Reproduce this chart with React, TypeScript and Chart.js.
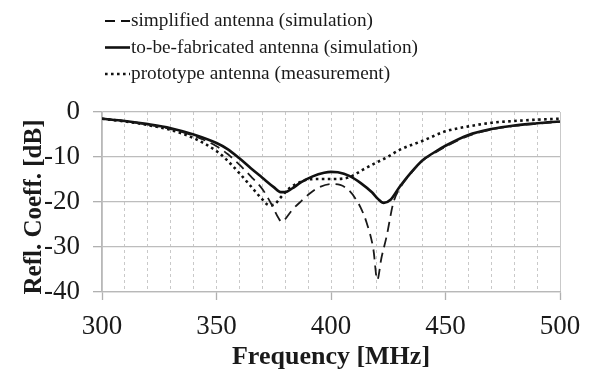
import React, { useEffect, useRef } from "react";
import { Chart, registerables } from "chart.js";

Chart.register(...registerables);

// ---- Data ----
const seriesLabels = [
  "simplified antenna (simulation)",
  "to-be-fabricated antenna (simulation)",
  "prototype antenna (measurement)",
];

const simplifiedFreq = [300, 310, 320, 330, 340, 350, 355, 360, 365, 370, 374, 377, 378.5, 380, 383, 387, 391, 395, 400, 404, 408, 411, 413, 415.5, 418.5, 420.2, 422, 424.3, 427.2, 430, 435, 440, 445, 450, 460, 470, 480, 490, 500];
const simplifiedDb = [-1.5, -2.0, -2.8, -3.8, -5.3, -7.6, -9.4, -11.7, -14.3, -17.1, -20.5, -23.5, -24.4, -23.8, -21.8, -19.8, -18.0, -16.7, -16.0, -16.2, -17.5, -19.5, -21.3, -24.5, -30.5, -37.3, -32.5, -27.6, -20.2, -17.0, -13.6, -10.8, -9.2, -7.7, -5.3, -3.9, -3.1, -2.6, -2.2];

const fabricatedFreq = [300, 310, 320, 330, 340, 350, 355, 360, 365, 370, 375, 378, 380, 383, 387, 392, 397, 400, 403, 408, 413, 418, 420.5, 423, 426, 430, 435, 440, 445, 450, 460, 470, 480, 490, 500];
const fabricatedDb = [-1.5, -2.0, -2.7, -3.6, -5.0, -6.9, -8.3, -10.3, -12.5, -14.6, -16.7, -17.8, -17.8, -17.0, -15.6, -14.3, -13.5, -13.3, -13.4, -14.2, -15.8, -17.9, -19.3, -20.2, -19.5, -16.6, -13.4, -10.7, -9.0, -7.5, -5.1, -3.8, -3.0, -2.5, -2.1];

const prototypeFreq = [300, 310, 320, 330, 340, 350, 355, 360, 365, 370, 373, 375, 378, 382, 386, 390, 395, 400, 405, 408, 411, 414, 420, 425, 430, 440, 450, 460, 470, 480, 490, 500];
const prototypeDb = [-1.5, -2.1, -2.9, -4.0, -5.8, -8.7, -10.9, -13.6, -16.5, -19.4, -20.7, -20.6, -19.0, -16.9, -15.7, -15.0, -14.9, -14.9, -14.8, -14.5, -13.7, -12.8, -11.2, -9.9, -8.4, -6.4, -4.3, -3.2, -2.4, -2.0, -1.7, -1.5];

const xTickValues = [300, 350, 400, 450, 500];
const yTickValues = [0, -10, -20, -30, -40];
const xTitle = "Frequency [MHz]";
const yTitle = "Refl. Coeff. [dB]";

const SERIF = '"Liberation Serif", "Times New Roman", serif';

const toPoints = (xs: number[], ys: number[]) => xs.map((x, i) => ({ x, y: ys[i] }));

const legendPlugin = {
  id: "stackedLegend",
  afterDraw(chart: any) {
    const ctx = chart.ctx as CanvasRenderingContext2D;
    const rows = [21, 47.5, 74];
    ctx.save();
    chart.data.datasets.forEach((ds: any, i: number) => {
      const y = rows[i];
      ctx.beginPath();
      ctx.strokeStyle = "#111";
      ctx.lineWidth = ds.borderWidth;
      ctx.setLineDash(ds.borderDash || []);
      ctx.moveTo(105, y);
      ctx.lineTo(130, y);
      ctx.stroke();
      ctx.setLineDash([]);
      ctx.font = `19.3px ${SERIF}`;
      ctx.fillStyle = "#1a1a1a";
      ctx.textBaseline = "middle";
      ctx.textAlign = "left";
      ctx.fillText(ds.label, 131, y);
    });
    // y-axis title
    ctx.translate(41, 207);
    ctx.rotate(-Math.PI / 2);
    ctx.font = `bold 25px ${SERIF}`;
    ctx.textAlign = "center";
    ctx.textBaseline = "alphabetic";
    ctx.fillStyle = "#1a1a1a";
    ctx.fillText(yTitle, 0, 0);
    ctx.restore();
  },
};

export default function App() {
  const ref = useRef<HTMLCanvasElement>(null);

  useEffect(() => {
    document.body.style.margin = "0";
    const canvas = ref.current!;
    const chart = new Chart(canvas, {
      type: "line",
      data: {
        datasets: [
          {
            label: seriesLabels[0],
            data: toPoints(simplifiedFreq, simplifiedDb),
            borderColor: "#1a1a1a",
            borderWidth: 1.8,
            borderDash: [10, 6],
            pointRadius: 0,
            cubicInterpolationMode: "monotone",
            fill: false,
          },
          {
            label: seriesLabels[1],
            data: toPoints(fabricatedFreq, fabricatedDb),
            borderColor: "#111",
            borderWidth: 2.6,
            pointRadius: 0,
            cubicInterpolationMode: "monotone",
            fill: false,
          },
          {
            label: seriesLabels[2],
            data: toPoints(prototypeFreq, prototypeDb),
            borderColor: "#111",
            borderWidth: 2.6,
            borderDash: [2.6, 3.4],
            pointRadius: 0,
            cubicInterpolationMode: "monotone",
            fill: false,
          },
        ],
      },
      options: {
        responsive: false,
        animation: false,
        layout: { padding: { top: 112, right: 30, left: 0, bottom: 0 } },
        plugins: {
          legend: { display: false },
          tooltip: { enabled: false },
        },
        scales: {
          x: {
            type: "linear",
            min: 300,
            max: 500,
            afterFit: (s: any) => {
              s.height = 78;
              s.paddingRight = 0;
              s.paddingLeft = 0;
            },
            afterBuildTicks: (s: any) => {
              const t = [];
              for (let v = 300; v <= 500; v += 10) t.push({ value: v });
              s.ticks = t;
            },
            ticks: {
              autoSkip: false,
              maxRotation: 0,
              padding: 11,
              color: "#1a1a1a",
              font: { family: SERIF, size: 27 },
              callback: (v: any) => (xTickValues.includes(Number(v)) ? String(v) : ""),
            },
            grid: {
              color: "#c9c9c9",
              lineWidth: 1,
              tickLength: 8,
              tickColor: (c: any) =>
                c.tick && xTickValues.includes(c.tick.value) ? "#b0b0b0" : "rgba(0,0,0,0)",
              tickWidth: 1.3,
              tickBorderDash: [],
            },
            border: {
              color: "#b8b8b8",
              width: 1.3,
              dash: (c: any) =>
                c.tick && (c.tick.value === 300 || c.tick.value === 500) ? [] : [3, 3],
            },
            title: {
              display: true,
              text: xTitle,
              color: "#1a1a1a",
              font: { family: SERIF, size: 26, weight: "bold", lineHeight: 1 },
              padding: { top: 0, bottom: 0 },
            },
          },
          y: {
            type: "linear",
            min: -40,
            max: 0,
            afterFit: (s: any) => {
              s.width = 102;
            },
            afterBuildTicks: (s: any) => {
              s.ticks = yTickValues.map((v) => ({ value: v }));
            },
            ticks: {
              padding: 13,
              color: "#1a1a1a",
              font: { family: SERIF, size: 27 },
            },
            grid: {
              color: "#bdbdbd",
              lineWidth: 1.3,
              tickLength: 9,
              tickColor: "#b0b0b0",
            },
            border: { color: "#b8b8b8", width: 1.3 },
            title: { display: false },
          },
        },
      },
      plugins: [legendPlugin],
    } as any);
    return () => chart.destroy();
  }, []);

  return (
    <div style={{ width: 590, height: 370, background: "#fff" }}>
      <canvas ref={ref} width={590} height={370} style={{ display: "block" }} />
    </div>
  );
}
